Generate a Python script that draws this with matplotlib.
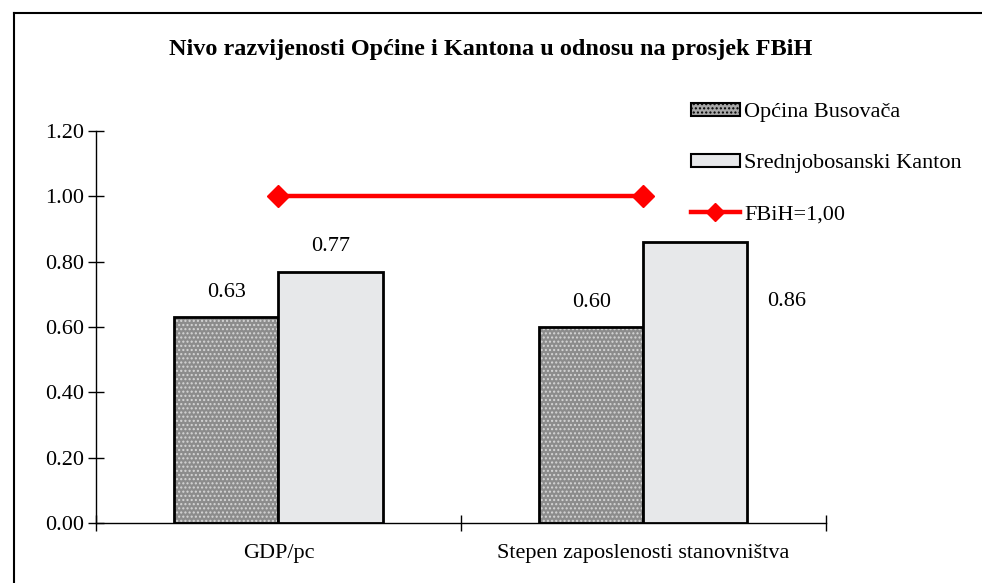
import matplotlib
matplotlib.use("Agg")
import matplotlib.pyplot as plt
import numpy as np
from matplotlib.lines import Line2D
from matplotlib.patches import Patch

categories = ["GDP/pc", "Stepen zaposlenosti stanovništva"]
busovaca = [0.63, 0.60]
kanton = [0.77, 0.86]
fbih = [1.00, 1.00]
series_names = ["Općina Busovača", "Srednjobosanski Kanton", "FBiH=1,00"]
yticks = [0.0, 0.2, 0.4, 0.6, 0.8, 1.0, 1.2]
title = "Nivo razvijenosti Općine i Kantona u odnosu na prosjek FBiH"

plt.rcParams["font.family"] = ["Liberation Serif", "DejaVu Serif"]
FS = 16

fig = plt.figure(figsize=(9.82, 5.83), dpi=100)
ax = fig.add_axes([0.0978, 0.103, 0.743, 0.672])

x = np.arange(len(categories))
w = 1 / 3.5  # Excel gap width 150%
x1 = x - w / 2
x2 = x + w / 2

# dotted grey texture for the municipality bars
ax.bar(x1, busovaca, w, color="#8c8c8c", lw=0, zorder=2)
ax.bar(x1, busovaca, w, color="none", hatch="....", edgecolor="#d6d6d6", lw=0, zorder=3)
ax.bar(x1, busovaca, w, color="none", edgecolor="black", lw=2, zorder=4)
ax.bar(x2, kanton, w, color="#e7e8ea", edgecolor="black", lw=2, zorder=4)

ax.plot(x, fbih, color="#ff0000", lw=3.2, marker="D", ms=11, zorder=5)

# value labels
for xi, v in zip(x1, busovaca):
    ax.annotate(f"{v:.2f}", (xi, v), xytext=(0, 18), textcoords="offset points",
                ha="center", va="center", fontsize=FS)
ax.annotate(f"{kanton[0]:.2f}", (x2[0], kanton[0]), xytext=(0, 18),
            textcoords="offset points", ha="center", va="center", fontsize=FS)
ax.annotate(f"{kanton[1]:.2f}", (x2[1] + w / 2, kanton[1]), xytext=(28, -43),
            textcoords="offset points", ha="center", va="center", fontsize=FS)

ax.set_xlim(-0.5, 1.5)
ax.set_ylim(0, 1.2)
ax.set_yticks(yticks)
ax.set_yticklabels([f"{t:.2f}" for t in yticks], fontsize=FS)
ax.set_xticks([-0.5, 0.5, 1.5])
ax.set_xticklabels([])
ax.set_xticks(x, minor=True)
ax.set_xticklabels(categories, minor=True, fontsize=FS)
ax.tick_params(axis="x", which="minor", length=0, pad=15)
ax.tick_params(axis="both", which="major", direction="inout", length=11, width=1)
ax.tick_params(axis="y", pad=3)
for s in ("top", "right"):
    ax.spines[s].set_visible(False)
for s in ("left", "bottom"):
    ax.spines[s].set_linewidth(1)

fig.text(0.5, 0.915, title, ha="center", va="center", fontsize=17.5, fontweight="bold")

handles = [
    Patch(facecolor="#a8a8a8", edgecolor="black", lw=1.5, hatch="...."),
    Patch(facecolor="#e7e8ea", edgecolor="black", lw=1.5),
    Line2D([], [], color="#ff0000", lw=3.2, marker="D", ms=9),
]
fig.legend(handles, series_names, loc="upper left", bbox_to_anchor=(0.692, 0.843),
           frameon=False, fontsize=FS, handlelength=2.2, handleheight=0.55,
           labelspacing=1.42, handletextpad=0.2, borderpad=0)

# outer chart border (top and left visible)
fig.add_artist(Line2D([0.0143, 0.0143], [0, 0.978], color="black", lw=1.5,
                      transform=fig.transFigure))
fig.add_artist(Line2D([0.0143, 1.0], [0.978, 0.978], color="black", lw=1.5,
                      transform=fig.transFigure))

fig.savefig("out.png", dpi=100)
